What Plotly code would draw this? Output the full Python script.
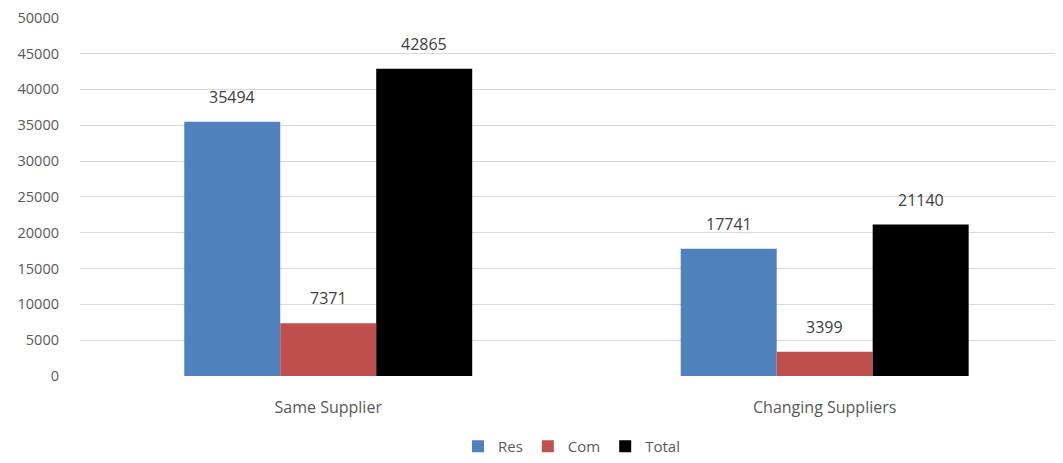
import plotly.graph_objects as go

categories = ["Same Supplier", "Changing Suppliers"]
series_names = ["Res", "Com", "Total"]
res_values = [35494, 17741]
com_values = [7371, 3399]
total_values = [42865, 21140]
colors = ["#4f81bd", "#c0504d", "#000000"]

fig = go.Figure()
all_series = [res_values, com_values, total_values]
for name, vals, col in zip(series_names, all_series, colors):
    fig.add_trace(go.Bar(
        name=name, x=categories, y=vals, marker=dict(color=col, line=dict(width=0)),
    ))

offsets = [-96, 0, 96]
for vals, dx in zip(all_series, offsets):
    for cat, v in zip(categories, vals):
        fig.add_annotation(x=cat, y=v, text=str(v), showarrow=False, xshift=dx, yshift=12,
                           yanchor="bottom", font=dict(color="#404040", size=16))

fig.update_layout(
    width=1055, height=455,
    margin=dict(l=72, r=0, t=9, b=86),
    barmode="group", bargap=0.42, bargroupgap=0,
    plot_bgcolor="white", paper_bgcolor="white",
    font=dict(family="Open Sans, Liberation Sans, sans-serif", size=15, color="#595959"),
    xaxis=dict(range=[-0.5, 1.48], showline=False, ticks="", tickfont=dict(size=16),
               ticklabelstandoff=20, automargin=False),
    yaxis=dict(range=[0, 50100], dtick=5000, tickformat="d", showgrid=True, gridcolor="#d9d9d9",
               zeroline=False, tickfont=dict(size=14.5), ticklabelstandoff=20, automargin=False,
               ticklabeloverflow="allow"),
    legend=dict(orientation="h", x=0.5, xanchor="center", y=-0.197, yanchor="middle",
                font=dict(size=15), itemwidth=30, traceorder="normal"),
    showlegend=True,
)
fig.write_html("out.html")
